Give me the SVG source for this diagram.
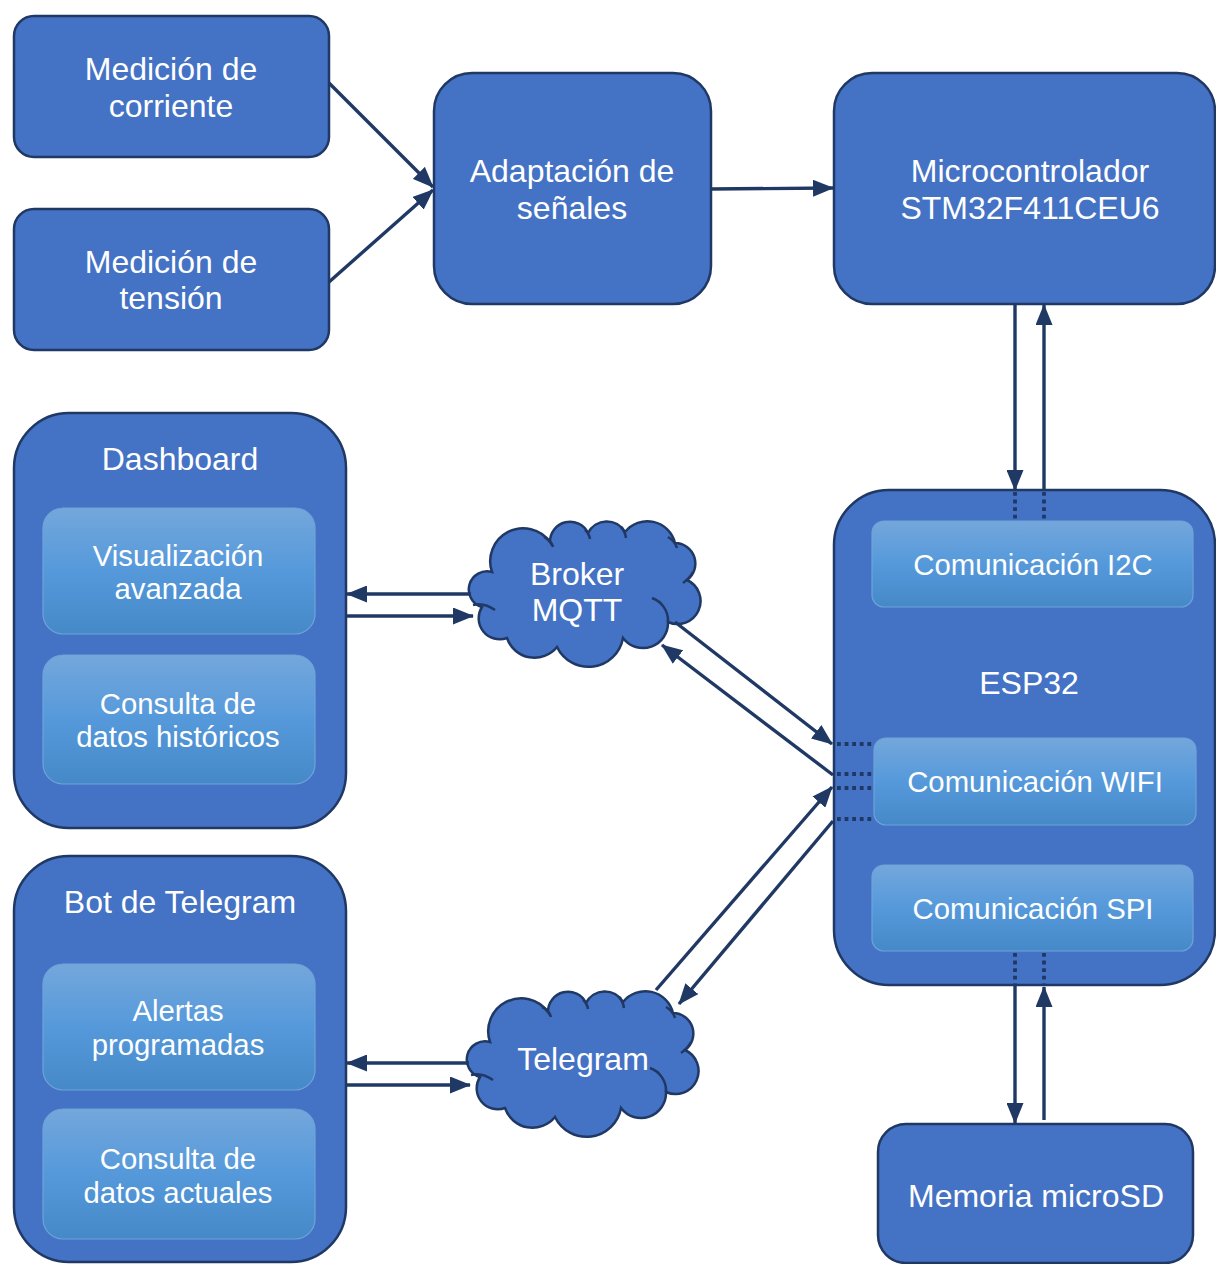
<svg xmlns="http://www.w3.org/2000/svg" width="1216" height="1264" viewBox="0 0 1216 1264">
<style>
.box{fill:#4472C4;stroke:#203864;stroke-width:2.5}
.inner{fill:url(#ig);stroke:#6FA3DA;stroke-width:1.2}
.t{font-family:"Liberation Sans",Arial,sans-serif;font-size:32px;fill:#FFFFFF;text-anchor:middle}
.ti{font-family:"Liberation Sans",Arial,sans-serif;font-size:29.3px;fill:#FFFFFF;text-anchor:middle}
.ca{stroke:#203864;stroke-width:3.4;fill:none;marker-end:url(#ah)}
.dot{stroke:#203864;stroke-width:3.8;fill:none;stroke-dasharray:3.8 3.8}
.cl{fill:#4472C4;stroke:#203864;stroke-width:2.5}
.cli{fill:none;stroke:#203864;stroke-width:2.5}
</style>
<defs>
<linearGradient id="ig" x1="0" y1="0" x2="0" y2="1">
<stop offset="0" stop-color="#74A7DB"/>
<stop offset="0.5" stop-color="#5599DB"/>
<stop offset="1" stop-color="#4589C8"/>
</linearGradient>
<marker id="ah" markerUnits="userSpaceOnUse" markerWidth="21" markerHeight="17" refX="20" refY="8.5" orient="auto">
<path d="M0,0 L21,8.5 L0,17 Z" fill="#203864"/>
</marker>
<g id="cloud">
<path class="cl" d="M12,87 A18,18 0 0 1 22,52 A33,33 0 0 1 80,22 A20,20 0 0 1 118,13 A21,21 0 0 1 155,12 A28.5,28.5 0 0 1 205,23 A20.5,20.5 0 0 1 217,60 A23,23 0 0 1 198,102 A25,25 0 0 1 153,118 A35,35 0 0 1 87,127 A29,29 0 0 1 37,118 A21,21 0 0 1 12,87 Z"/>
<path class="cli" d="M182,78 A24,24 0 0 1 198,102 M3,85 Q14,82 25,90 M74,17 Q81,20 83,27 M115,10 Q119,13 120,19 M151,7 Q155,11 156,18 M198,17 Q205,21 207,28 M223,52 Q220,58 213,63"/>
</g>
</defs>

<g id="medicion-corriente">
<rect class="box" x="14" y="16" width="315" height="141" rx="20"/>
<text class="t" x="171" y="80">Medición de</text>
<text class="t" x="171" y="117">corriente</text>
</g>
<g id="medicion-tension">
<rect class="box" x="14" y="209" width="315" height="141" rx="20"/>
<text class="t" x="171" y="273">Medición de</text>
<text class="t" x="171" y="309">tensión</text>
</g>
<g id="adaptacion">
<rect class="box" x="434" y="73" width="277" height="231" rx="38"/>
<text class="t" x="572" y="182">Adaptación de</text>
<text class="t" x="572" y="219">señales</text>
</g>
<g id="microcontrolador">
<rect class="box" x="834" y="73" width="381" height="231" rx="38"/>
<text class="t" x="1030" y="182">Microcontrolador</text>
<text class="t" x="1030" y="219">STM32F411CEU6</text>
</g>

<g id="dashboard">
<rect class="box" x="14" y="413" width="332" height="415" rx="55"/>
<text class="t" x="180" y="470">Dashboard</text>
</g>
<g id="visualizacion">
<rect class="inner" x="43" y="508" width="272" height="126" rx="20"/>
<text class="ti" x="178" y="566">Visualización</text>
<text class="ti" x="178" y="599">avanzada</text>
</g>
<g id="consulta-historicos">
<rect class="inner" x="43" y="655" width="272" height="129" rx="20"/>
<text class="ti" x="178" y="714">Consulta de</text>
<text class="ti" x="178" y="747">datos históricos</text>
</g>

<g id="bot-telegram">
<rect class="box" x="14" y="856" width="332" height="406" rx="55"/>
<text class="t" x="180" y="913">Bot de Telegram</text>
</g>
<g id="alertas">
<rect class="inner" x="43" y="964" width="272" height="126" rx="20"/>
<text class="ti" x="178" y="1021">Alertas</text>
<text class="ti" x="178" y="1055">programadas</text>
</g>
<g id="consulta-actuales">
<rect class="inner" x="43" y="1109" width="272" height="130" rx="20"/>
<text class="ti" x="178" y="1169">Consulta de</text>
<text class="ti" x="178" y="1203">datos actuales</text>
</g>

<g id="broker-mqtt">
<use href="#cloud" x="470" y="520"/>
<text class="t" x="577" y="585">Broker</text>
<text class="t" x="577" y="621">MQTT</text>
</g>
<g id="telegram">
<use href="#cloud" x="468" y="990"/>
<text class="t" x="583" y="1070">Telegram</text>
</g>

<g id="esp32">
<rect class="box" x="834" y="490" width="381" height="495" rx="55"/>
<text class="t" x="1029" y="694">ESP32</text>
</g>
<g id="com-i2c">
<rect class="inner" x="872" y="521" width="321" height="86" rx="12"/>
<text class="ti" x="1033" y="575">Comunicación I2C</text>
</g>
<g id="com-wifi">
<rect class="inner" x="874" y="738" width="322" height="87" rx="12"/>
<text class="ti" x="1035" y="792">Comunicación WIFI</text>
</g>
<g id="com-spi">
<rect class="inner" x="872" y="865" width="321" height="86" rx="12"/>
<text class="ti" x="1033" y="919">Comunicación SPI</text>
</g>

<g id="memoria-microsd">
<rect class="box" x="878" y="1124" width="315" height="139" rx="28"/>
<text class="t" x="1036" y="1207">Memoria microSD</text>
</g>

<g id="connectors">
<line class="ca" x1="329" y1="83" x2="433" y2="187"/>
<line class="ca" x1="329" y1="282" x2="433" y2="190"/>
<line class="ca" x1="711" y1="189" x2="833" y2="188"/>
<line class="ca" x1="1015" y1="305" x2="1015" y2="490"/>
<line class="ca" x1="1044" y1="490" x2="1044" y2="305"/>
<line class="dot" x1="1015" y1="492" x2="1015" y2="520"/>
<line class="dot" x1="1044" y1="492" x2="1044" y2="520"/>
<line class="ca" x1="471" y1="594" x2="347" y2="594"/>
<line class="ca" x1="347" y1="616" x2="473" y2="616"/>
<line class="ca" x1="675" y1="622" x2="832" y2="744"/>
<line class="ca" x1="833" y1="775" x2="662" y2="645"/>
<line class="ca" x1="656" y1="990" x2="832" y2="787"/>
<line class="ca" x1="833" y1="821" x2="679" y2="1004"/>
<line class="dot" x1="837" y1="744" x2="873" y2="744"/>
<line class="dot" x1="837" y1="774" x2="873" y2="774"/>
<line class="dot" x1="837" y1="788" x2="873" y2="788"/>
<line class="dot" x1="837" y1="819" x2="873" y2="819"/>
<line class="ca" x1="469" y1="1063" x2="347" y2="1063"/>
<line class="ca" x1="347" y1="1085" x2="470" y2="1085"/>
<line class="dot" x1="1015" y1="953" x2="1015" y2="984"/>
<line class="dot" x1="1044" y1="953" x2="1044" y2="984"/>
<line class="ca" x1="1015" y1="986" x2="1015" y2="1123"/>
<line class="ca" x1="1044" y1="1120" x2="1044" y2="987"/>
</g>
</svg>
